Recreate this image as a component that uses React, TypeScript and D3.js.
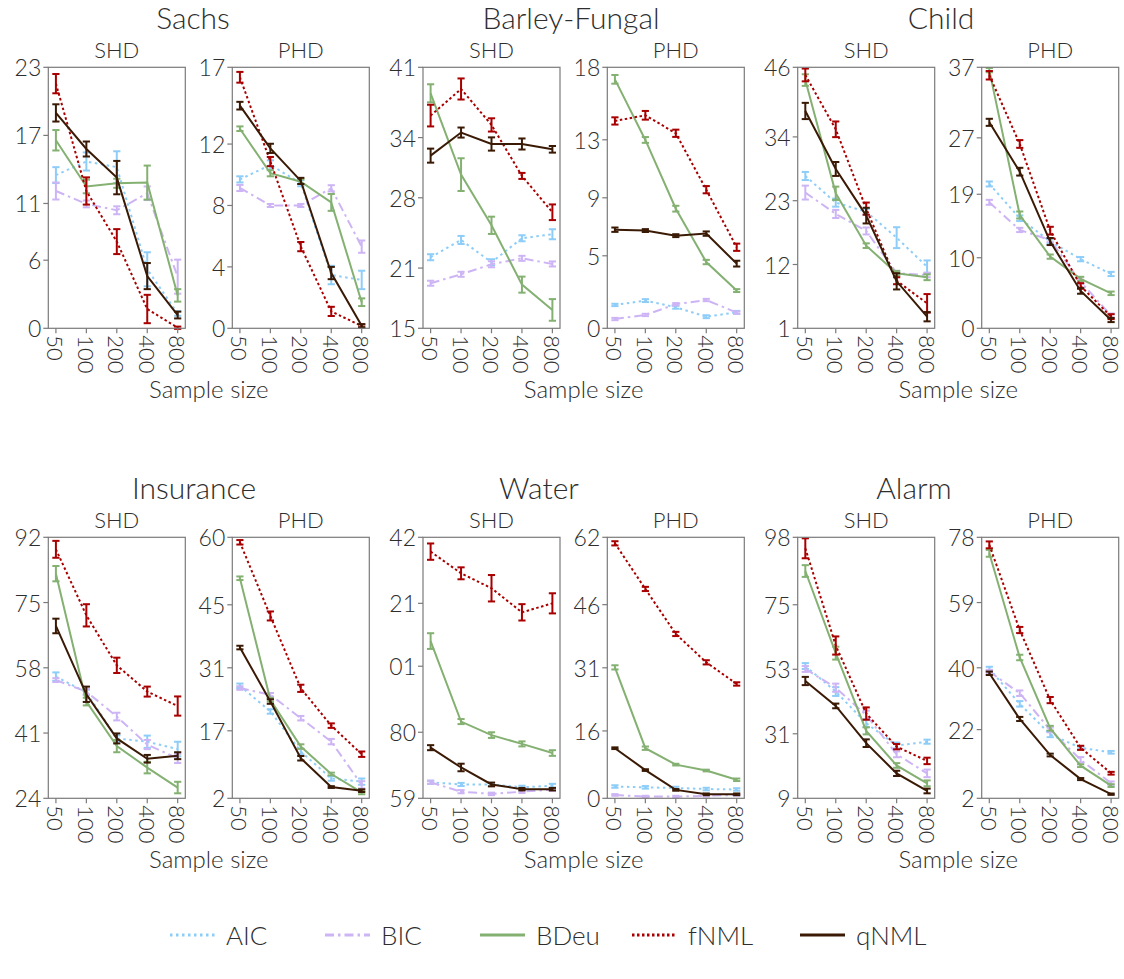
import React from "react";
import * as d3 from "d3";

const methods = ["AIC", "BIC", "BDeu", "fNML", "qNML"];
const sampleSizes = ["50", "100", "200", "400", "800"];
const datasets = ["Sachs", "Barley-Fungal", "Child", "Insurance", "Water", "Alarm"];
const metrics = ["SHD", "PHD"];

// means: rows = methods (AIC, BIC, BDeu, fNML, qNML), cols = sample sizes
const sachsSHD = [
  [13.5, 14.7, 14.2, 5.2, 1.3],
  [12.1, 10.96, 10.4, 11.9, 4.55],
  [16.57, 12.5, 12.78, 12.84, 2.9],
  [21.56, 12.1, 7.64, 1.7, 0.05],
  [18.98, 15.8, 13.28, 4.6, 1.17],
];
const sachsSHDErr = [
  [0.7, 0.8, 1.4, 1.5, 0.2],
  [0.75, 0.3, 0.35, 0.6, 1.5],
  [0.9, 0.6, 0.4, 1.5, 0.55],
  [0.85, 1.2, 1.1, 1.25, 0.1],
  [0.76, 0.66, 1.47, 1.15, 0.3],
];
const sachsPHD = [
  [9.7, 10.64, 9.45, 3.47, 3.15],
  [9.14, 8.0, 8.0, 9.12, 5.32],
  [13.0, 10.1, 9.55, 8.2, 1.7],
  [16.35, 10.86, 5.32, 1.1, 0.15],
  [14.5, 11.72, 9.6, 3.6, 0.17],
];
const sachsPHDErr = [
  [0.2, 0.3, 0.2, 0.6, 0.6],
  [0.2, 0.1, 0.1, 0.2, 0.4],
  [0.15, 0.2, 0.15, 0.55, 0.25],
  [0.35, 0.3, 0.3, 0.3, 0.1],
  [0.25, 0.3, 0.2, 0.4, 0.1],
];
const barleySHD = [
  [22.08, 23.8, 21.58, 23.97, 24.37],
  [19.49, 20.38, 21.38, 21.97, 21.41],
  [38.41, 30.31, 25.26, 19.35, 16.83],
  [36.19, 38.84, 35.26, 30.18, 26.56],
  [32.2, 34.5, 33.36, 33.36, 32.83],
];
const barleySHDErr = [
  [0.3, 0.4, 0.3, 0.3, 0.5],
  [0.25, 0.25, 0.3, 0.25, 0.25],
  [0.9, 1.63, 0.86, 0.8, 1.08],
  [1.08, 1.05, 0.66, 0.3, 0.78],
  [0.7, 0.5, 0.66, 0.55, 0.33],
];
const barleyPHD = [
  [1.61, 1.91, 1.45, 0.8, 1.1],
  [0.64, 0.92, 1.66, 1.95, 1.08],
  [17.17, 12.99, 8.25, 4.57, 2.6],
  [14.3, 14.69, 13.45, 9.56, 5.59],
  [6.8, 6.74, 6.39, 6.53, 4.46],
];
const barleyPHDErr = [
  [0.08, 0.1, 0.1, 0.1, 0.1],
  [0.08, 0.08, 0.08, 0.08, 0.08],
  [0.3, 0.2, 0.2, 0.15, 0.1],
  [0.25, 0.3, 0.25, 0.25, 0.25],
  [0.15, 0.1, 0.1, 0.15, 0.2],
];
const childSHD = [
  [27.26, 22.67, 21.1, 16.63, 11.6],
  [24.4, 20.72, 17.78, 10.5, 10.2],
  [43.8, 24.28, 15.25, 10.5, 9.8],
  [44.68, 35.31, 21.63, 9.2, 5.3],
  [38.47, 28.47, 20.43, 9.1, 3.0],
];
const childSHDErr = [
  [0.7, 0.7, 0.5, 1.8, 1.1],
  [1.2, 0.7, 0.6, 0.4, 0.4],
  [1.0, 1.15, 0.4, 0.4, 0.5],
  [1.1, 1.35, 1.05, 0.6, 1.6],
  [1.4, 1.2, 1.35, 1.4, 0.8],
];
const childPHD = [
  [20.46, 15.6, 12.3, 9.8, 7.7],
  [17.86, 13.94, 12.5, 6.6, 1.8],
  [36.6, 16.06, 10.16, 7.0, 4.96],
  [35.87, 26.13, 13.84, 6.0, 1.65],
  [29.2, 22.2, 12.3, 5.3, 1.18],
];
const childPHDErr = [
  [0.35, 0.4, 0.3, 0.3, 0.3],
  [0.35, 0.3, 0.3, 0.3, 0.3],
  [0.3, 0.5, 0.3, 0.3, 0.25],
  [0.6, 0.55, 0.55, 0.4, 0.35],
  [0.5, 0.55, 0.5, 0.4, 0.3],
];
const insuranceSHD = [
  [55.7, 51.6, 39.6, 38.74, 36.83],
  [54.8, 51.8, 45.3, 38.0, 34.4],
  [82.53, 49.2, 37.6, 32.0, 26.8],
  [88.87, 71.67, 58.64, 51.8, 48.04],
  [68.9, 51.1, 39.6, 34.3, 35.1],
];
const insuranceSHDErr = [
  [1.1, 0.7, 0.8, 1.6, 1.9],
  [0.5, 0.7, 1.0, 1.2, 1.2],
  [2.0, 1.0, 1.6, 1.5, 1.5],
  [2.2, 2.9, 2.0, 1.3, 2.5],
  [1.9, 2.0, 1.3, 1.0, 0.9],
];
const insurancePHD = [
  [27.0, 21.3, 12.4, 6.4, 5.7],
  [26.5, 25.0, 19.8, 14.6, 5.0],
  [50.9, 23.9, 13.5, 7.4, 3.3],
  [58.89, 42.52, 26.44, 18.15, 11.8],
  [35.5, 23.5, 10.9, 4.5, 3.7],
];
const insurancePHDErr = [
  [0.5, 0.5, 0.6, 0.5, 0.7],
  [0.4, 0.4, 0.5, 0.6, 0.8],
  [0.4, 0.4, 0.5, 0.3, 0.4],
  [0.5, 1.0, 0.8, 0.5, 0.6],
  [0.4, 0.5, 0.5, 0.2, 0.3],
];
const waterSHD = [
  [64.1, 63.4, 63.4, 62.5, 63.0],
  [64.1, 61.1, 60.4, 61.1, 61.8],
  [109.0, 83.4, 79.1, 76.3, 73.4],
  [137.44, 130.55, 125.8, 118.14, 121.0],
  [75.1, 68.8, 63.4, 61.9, 61.9],
];
const waterSHDErr = [
  [0.5, 0.5, 0.5, 0.5, 0.6],
  [0.5, 0.5, 0.4, 0.4, 0.4],
  [2.5, 0.8, 0.9, 0.8, 0.9],
  [2.6, 1.9, 4.2, 2.6, 3.2],
  [0.8, 1.2, 0.6, 0.4, 0.4],
];
const waterPHD = [
  [2.8, 2.6, 2.45, 2.2, 2.1],
  [0.8, 0.4, 0.4, 0.6, 0.8],
  [31.1, 11.9, 8.0, 6.6, 4.4],
  [60.57, 49.73, 39.04, 32.3, 27.16],
  [11.9, 6.7, 2.0, 0.95, 0.95],
];
const waterPHDErr = [
  [0.3, 0.3, 0.3, 0.3, 0.3],
  [0.2, 0.2, 0.2, 0.2, 0.2],
  [0.5, 0.4, 0.2, 0.2, 0.3],
  [0.5, 0.5, 0.5, 0.5, 0.4],
  [0.2, 0.2, 0.2, 0.2, 0.2],
];
const alarmSHD = [
  [54.1, 45.4, 34.6, 27.0, 28.3],
  [53.1, 46.7, 37.4, 24.0, 17.5],
  [86.5, 58.5, 32.0, 20.2, 14.1],
  [94.25, 61.1, 37.9, 26.6, 21.75],
  [49.0, 40.5, 27.8, 17.5, 11.5],
];
const alarmSHDErr = [
  [1.0, 1.5, 1.3, 1.0, 0.7],
  [1.0, 1.4, 1.5, 1.0, 1.3],
  [2.0, 2.2, 1.2, 0.8, 1.0],
  [3.4, 3.1, 2.1, 0.9, 1.1],
  [1.4, 0.8, 1.3, 0.9, 0.8],
];
const alarmPHD = [
  [39.7, 29.5, 20.6, 16.7, 15.4],
  [38.9, 32.6, 21.9, 13.2, 6.4],
  [73.34, 43.0, 22.4, 11.5, 5.7],
  [75.8, 51.0, 30.6, 16.7, 9.3],
  [38.4, 25.1, 14.6, 7.6, 3.2],
];
const alarmPHDErr = [
  [0.6, 0.8, 0.8, 0.4, 0.4],
  [0.5, 0.8, 0.7, 0.8, 0.5],
  [1.0, 0.8, 0.7, 0.4, 0.4],
  [1.0, 0.9, 0.9, 0.6, 0.4],
  [0.5, 0.6, 0.4, 0.3, 0.2],
];

// y ticks per panel
const sachsSHDTicks = [0, 6, 11, 17, 23];
const sachsPHDTicks = [0, 4, 8, 12, 17];
const barleySHDTicks = [15, 21, 28, 34, 41];
const barleyPHDTicks = [0, 5, 9, 13, 18];
const childSHDTicks = [1, 12, 23, 34, 46];
const childPHDTicks = [0, 10, 19, 27, 37];
const insuranceSHDTicks = [24, 41, 58, 75, 92];
const insurancePHDTicks = [2, 17, 31, 45, 60];
const waterSHDTicks = [59, 80, 101, 121, 142];
const waterSHDTickLabels = ["59", "80", "01", "21", "42"];
const waterPHDTicks = [0, 16, 31, 46, 62];
const alarmSHDTicks = [9, 31, 53, 75, 98];
const alarmPHDTicks = [2, 22, 40, 59, 78];

const colors: Record<string, string> = {
  AIC: "#8ecdf8",
  BIC: "#cdb4f5",
  BDeu: "#84b172",
  fNML: "#a80000",
  qNML: "#3a1a05",
};
const dashes: Record<string, string | undefined> = {
  AIC: "2.5,3.5",
  BIC: "9,4,2.5,4",
  BDeu: undefined,
  fNML: "2.5,2.5",
  qNML: undefined,
};

type Panel = {
  means: number[][];
  errs: number[][];
  ticks: number[];
  labels?: string[];
};

const panels: Panel[][] = [
  [
    { means: sachsSHD, errs: sachsSHDErr, ticks: sachsSHDTicks },
    { means: sachsPHD, errs: sachsPHDErr, ticks: sachsPHDTicks },
    { means: barleySHD, errs: barleySHDErr, ticks: barleySHDTicks },
    { means: barleyPHD, errs: barleyPHDErr, ticks: barleyPHDTicks },
    { means: childSHD, errs: childSHDErr, ticks: childSHDTicks },
    { means: childPHD, errs: childPHDErr, ticks: childPHDTicks },
  ],
  [
    { means: insuranceSHD, errs: insuranceSHDErr, ticks: insuranceSHDTicks },
    { means: insurancePHD, errs: insurancePHDErr, ticks: insurancePHDTicks },
    { means: waterSHD, errs: waterSHDErr, ticks: waterSHDTicks, labels: waterSHDTickLabels },
    { means: waterPHD, errs: waterPHDErr, ticks: waterPHDTicks },
    { means: alarmSHD, errs: alarmSHDErr, ticks: alarmSHDTicks },
    { means: alarmPHD, errs: alarmPHDErr, ticks: alarmPHDTicks },
  ],
];

// layout
const W = 1124;
const H = 979;
const colLeft = [48.3, 232.3, 423, 607.3, 797.7, 981.7];
const panelW = 137;
const rowTop = [67.3, 537.3];
const panelH = 261;
const titleX = [[193, 571, 941], [194, 539, 914]];
const FONT = "Lato, 'Open Sans', 'DejaVu Sans', sans-serif";
const TEXT = "#2e2e2e";
const AXIS = "#7a7a7a";
const FW = 300;

function PanelView({ p, x0, y0 }: { p: Panel; x0: number; y0: number }) {
  const x = d3.scalePoint<string>().domain(sampleSizes).range([x0, x0 + panelW]).padding(0.25);
  const lo = p.ticks[0];
  const hi = p.ticks[p.ticks.length - 1];
  const y = d3.scaleLinear().domain([lo, hi]).range([y0 + panelH, y0]);
  const line = d3
    .line<number>()
    .x((_, i) => x(sampleSizes[i]) as number)
    .y((d) => y(d));
  const cap = 3.6;
  return (
    <g>
      <rect x={x0} y={y0} width={panelW} height={panelH} fill="white" />
      {methods.map((m, mi) => (
        <g key={m}>
          {p.means[mi].map((v, i) => {
            const cx = x(sampleSizes[i]) as number;
            const e = p.errs[mi][i];
            const ya = y(v - e);
            const yb = y(v + e);
            return (
              <g key={i} stroke={colors[m]} strokeWidth={2} fill="none">
                <line x1={cx} x2={cx} y1={ya} y2={yb} />
                <line x1={cx - cap} x2={cx + cap} y1={ya} y2={ya} />
                <line x1={cx - cap} x2={cx + cap} y1={yb} y2={yb} />
              </g>
            );
          })}
          <path
            d={line(p.means[mi]) || ""}
            fill="none"
            stroke={colors[m]}
            strokeWidth={2}
            strokeDasharray={dashes[m]}
          />
        </g>
      ))}
      <rect x={x0} y={y0} width={panelW} height={panelH} fill="none" stroke={AXIS} strokeWidth={1.2} />
      {p.ticks.map((t, i) => (
        <g key={"yt" + i}>
          <line x1={x0 - 5} x2={x0} y1={y(t)} y2={y(t)} stroke={AXIS} strokeWidth={1.2} />
          <text
            x={x0 - 7}
            y={y(t)}
            textAnchor="end"
            dominantBaseline="central"
            fontSize={23}
            fontWeight={FW}
            fill={TEXT}
            fontFamily={FONT}
          >
            {p.labels ? p.labels[i] : String(t)}
          </text>
        </g>
      ))}
      {sampleSizes.map((s) => {
        const cx = x(s) as number;
        const by = y0 + panelH;
        return (
          <g key={"xt" + s}>
            <line x1={cx} x2={cx} y1={by} y2={by + 5} stroke={AXIS} strokeWidth={1.2} />
            <text
              transform={`translate(${cx},${by + 7}) rotate(90)`}
              textAnchor="start"
              dominantBaseline="central"
              fontSize={22}
              fontWeight={FW}
              fill={TEXT}
              fontFamily={FONT}
            >
              {s}
            </text>
          </g>
        );
      })}
    </g>
  );
}

export default function App() {
  const legendX = [170, 325, 480, 632, 800];
  return (
    <svg
      width={W}
      height={H}
      style={{ display: "block", background: "white", position: "absolute", left: 0, top: 0 }}
    >
      <rect width={W} height={H} fill="white" />
      {panels.map((row, ri) => (
        <g key={ri}>
          {row.map((p, ci) => (
            <PanelView key={ci} p={p} x0={colLeft[ci]} y0={rowTop[ri]} />
          ))}
          {[0, 1, 2].map((g) => (
            <g key={"t" + g}>
              <text
                x={titleX[ri][g]}
                y={rowTop[ri] - 38}
                textAnchor="middle"
                fontSize={30}
                fontWeight={FW}
                fill={TEXT}
                fontFamily={FONT}
              >
                {datasets[ri * 3 + g]}
              </text>
              {metrics.map((mt, k) => (
                <text
                  key={mt}
                  x={colLeft[g * 2 + k] + panelW / 2}
                  y={rowTop[ri] - 9}
                  textAnchor="middle"
                  fontSize={22}
                  fontWeight={FW}
                  fill={TEXT}
                  fontFamily={FONT}
                >
                  {mt}
                </text>
              ))}
              <text
                x={(colLeft[g * 2] + colLeft[g * 2 + 1] + panelW) / 2}
                y={rowTop[ri] + panelH + 70}
                textAnchor="middle"
                fontSize={24}
                fontWeight={FW}
                fill={TEXT}
                fontFamily={FONT}
              >
                Sample size
              </text>
            </g>
          ))}
        </g>
      ))}
      {methods.map((m, i) => (
        <g key={"lg" + m}>
          <line
            x1={legendX[i]}
            x2={legendX[i] + 45}
            y1={935}
            y2={935}
            stroke={colors[m]}
            strokeWidth={3}
            strokeDasharray={dashes[m]}
          />
          <text
            x={legendX[i] + 56}
            y={935}
            dominantBaseline="central"
            fontSize={26}
            fontWeight={FW}
            fill={TEXT}
            fontFamily={FONT}
          >
            {m}
          </text>
        </g>
      ))}
    </svg>
  );
}
